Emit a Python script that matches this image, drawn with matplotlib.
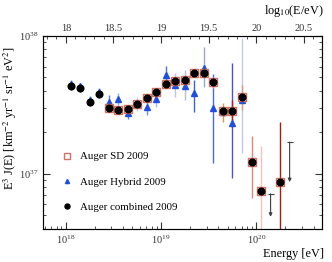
import numpy as np
import matplotlib.pyplot as plt
from matplotlib.ticker import NullFormatter, MultipleLocator, FuncFormatter

plt.rcParams['font.family'] = 'serif'
plt.rcParams['font.serif'] = ['Liberation Serif', 'DejaVu Serif']
plt.rcParams['mathtext.fontset'] = 'stix'

# E^3 J(E) values in units of 1e37 km^-2 yr^-1 sr^-1 eV^2, bins in log10(E/eV)
sd_lgE = [18.45, 18.55, 18.65, 18.75, 18.85, 18.95, 19.05, 19.15, 19.25,
          19.35, 19.45, 19.55, 19.65, 19.75, 19.85, 19.95, 20.05, 20.25]
sd_flux = [3.02, 2.91, 2.96, 3.21, 3.57, 3.93, 4.47, 4.68, 4.80,
           5.42, 5.35, 4.61, 2.86, 2.86, 3.61, 1.22, 0.745, 0.871]
sd_lo = [2.85, 2.75, 2.80, 3.05, 3.40, 3.75, 4.25, 4.45, 4.55,
         5.10, 5.05, 4.20, 2.38, 2.19, 2.91, 0.670, 0.30, 0.30]
sd_hi = [3.20, 3.08, 3.13, 3.38, 3.75, 4.12, 4.70, 4.92, 5.05,
         5.75, 5.70, 5.05, 3.27, 3.44, 4.42, 1.88, 1.58, 2.39]

hyb_lgE = [18.05, 18.15, 18.25, 18.35, 18.45, 18.55, 18.65, 18.75, 18.85, 18.95,
           19.05, 19.15, 19.25, 19.35, 19.45, 19.55, 19.65, 19.75, 19.85]
hyb_flux = [4.50, 4.33, 3.45, 3.95, 3.34, 3.48, 2.75, 3.21, 3.04, 3.49,
            5.21, 4.38, 4.35, 3.85, 5.89, 3.01, 2.81, 2.33, 3.44]
hyb_lo = [4.30, 4.12, 3.28, 3.76, 3.00, 3.16, 2.50, 2.86, 2.68, 3.06,
          4.27, 3.61, 3.44, 2.81, 4.27, 1.20, 2.62, 0.935, 1.42]
hyb_hi = [4.76, 4.57, 3.66, 4.17, 3.74, 3.86, 3.01, 3.61, 3.44, 3.86,
          6.06, 5.39, 5.67, 4.80, 8.32, 5.31, 3.00, 6.37, 9.67]

comb_lgE = [18.05, 18.15, 18.25, 18.35, 18.45, 18.55, 18.65, 18.75, 18.85, 18.95,
            19.05, 19.15, 19.25, 19.35, 19.45, 19.55, 19.65, 19.75, 19.85,
            19.95, 20.05, 20.25]
comb_flux = [4.35, 4.18, 3.34, 3.78, 3.02, 2.91, 2.96, 3.21, 3.57, 3.93,
             4.47, 4.68, 4.80, 5.42, 5.35, 4.61, 2.86, 2.86, 3.61,
             1.22, 0.745, 0.871]
comb_lo = [4.07, 3.91, 3.12, 3.54]
comb_hi = [4.65, 4.47, 3.57, 4.04]

# upper limits (arrows)
ul_lgE = [20.15, 20.35]
ul_top = [0.716, 1.70]
ul_tip = [0.488, 0.871]

# error bar colours per point
hyb_cols = ['#6f8fe0', '#6f8fe0', '#6f8fe0', '#6f8fe0', '#5a7fe8', '#8fa8e8', '#6080e0',
            '#c8c8d8', '#7090e0', '#a8b8e0', '#5070e0', '#c0c4d4', '#b8bcd0', '#4060d8',
            '#9aa6d0', '#4a6ad8', '#8898d8', '#5050d0', '#c0c8f0']
sd_cols = ['#e8a898'] * 12 + ['#e09060', '#b02020', '#e09a70', '#e08878', '#f4c0c0', '#a02010']

u = 1e37
fig = plt.figure(figsize=(3.32, 2.62), dpi=100)
ax = fig.add_axes([43/332, 33/262, 279/332, 193/262])

hx = 10**np.array(hyb_lgE)
sx = 10**np.array(sd_lgE)
cx = 10**np.array(comb_lgE)

ax.vlines(hx, np.array(hyb_lo)*u, np.array(hyb_hi)*u, colors=hyb_cols, lw=1.0, zorder=2)
ax.vlines(sx, np.array(sd_lo)*u, np.array(sd_hi)*u, colors=sd_cols, lw=1.0, zorder=2)
ax.vlines(cx[:4], np.array(comb_lo)*u, np.array(comb_hi)*u, colors='#303030', lw=1.0, zorder=2)

ax.plot(hx, np.array(hyb_flux)*u, '^', color='#1f4fe0', ms=4.0, ls='none', zorder=3,
        label='Auger Hybrid 2009')
ax.plot(sx, np.array(sd_flux)*u, 's', mfc='none', mec='#d07060', mew=1.0, ms=5.8,
        ls='none', zorder=4, label='Auger SD 2009')
ax.plot(cx, np.array(comb_flux)*u, 'o', color='black', ms=4.8, ls='none', zorder=5,
        label='Auger combined 2009')

for x, top, tip in zip(ul_lgE, ul_top, ul_tip):
    ax.annotate('', xy=(10**x, tip*u), xytext=(10**x, top*u),
                arrowprops=dict(arrowstyle='-|>', color='#404040', lw=0.8,
                                mutation_scale=5, shrinkA=0, shrinkB=0))
    ax.plot([10**x], [top*u], marker='_', color='#404040', ms=4, mew=0.8)

ax.set_xscale('log')
ax.set_yscale('log')
ax.set_xlim(10**17.76, 10**20.69)
ax.set_ylim(10**36.6, 1e38)
ax.xaxis.set_minor_formatter(NullFormatter())
ax.yaxis.set_minor_formatter(NullFormatter())
ax.tick_params(which='both', direction='in', top=False, right=True, labelsize=7.5,
               colors='#333333')
ax.tick_params(which='major', length=5, pad=3)
ax.tick_params(which='minor', length=2.5)
for s in ax.spines.values():
    s.set_color('#444444')
    s.set_linewidth(0.8)

ax2 = ax.twiny()
ax2.set_xlim(17.76, 20.69)
ax2.xaxis.set_major_locator(MultipleLocator(0.5))
ax2.xaxis.set_minor_locator(MultipleLocator(0.1))
ax2.xaxis.set_major_formatter(FuncFormatter(lambda v, p: '%g' % v))
ax2.tick_params(which='both', direction='in', labelsize=7.5, colors='#333333', pad=2)
ax2.tick_params(which='major', length=5)
ax2.tick_params(which='minor', length=2.5)

leg = ax.legend(handles=[ax.lines[1], ax.lines[0], ax.lines[2]], loc='upper left',
                bbox_to_anchor=(0.075, 0.40), frameon=False, fontsize=7.8,
                handlelength=0.6, handletextpad=0.9, labelspacing=1.45,
                borderpad=0, borderaxespad=0, markerscale=0.75)

fig.text(10/332, 1 - 118/262, r'E$^3$ J(E) [km$^{-2}$ yr$^{-1}$ sr$^{-1}$ eV$^2$]',
         rotation=90, ha='center', va='center', fontsize=8.8)
fig.text(324/332, 1 - 11/262, r'log$_{10}$(E/eV)', ha='right', va='center', fontsize=8.8)
fig.text(324/332, 1 - 254/262, 'Energy [eV]', ha='right', va='center', fontsize=8.8)

fig.savefig('out.png', dpi=100)
